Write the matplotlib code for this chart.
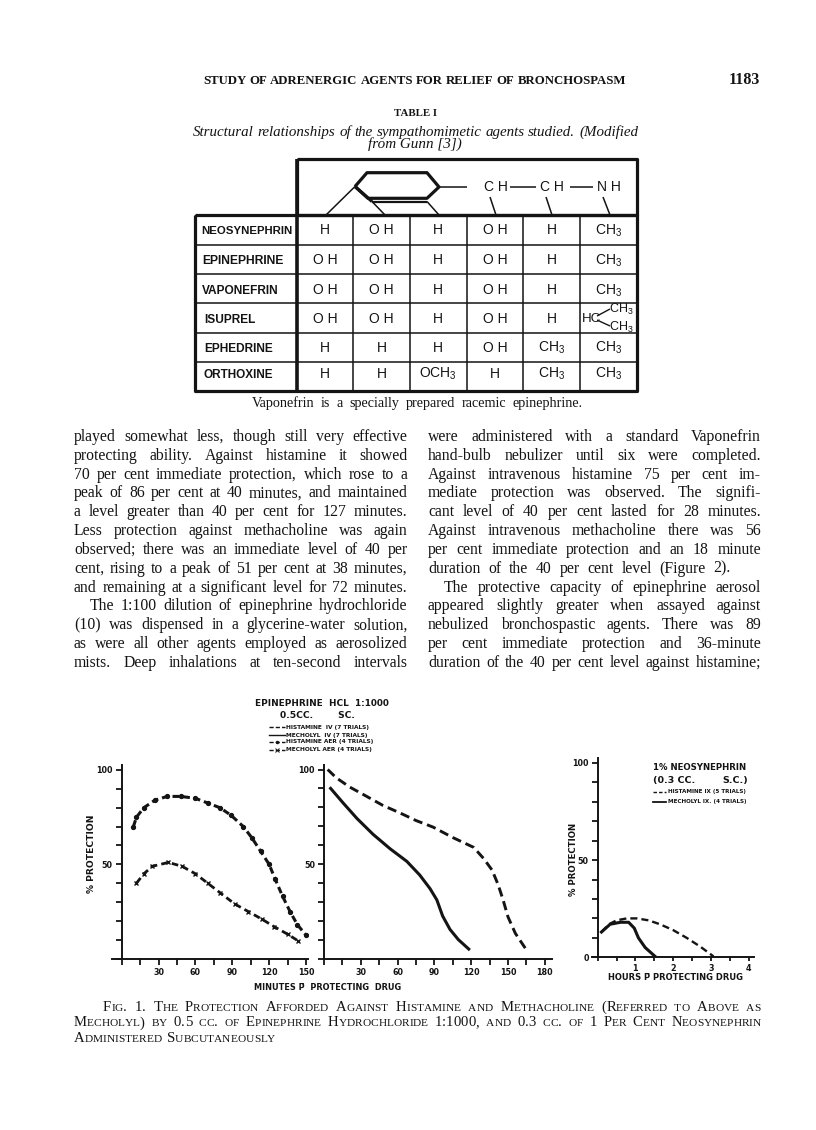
"""Scanned journal page: table, two text columns and Fig. 1 (three panels)."""

import matplotlib
matplotlib.use("Agg")
import matplotlib.pyplot as plt
from matplotlib.font_manager import FontProperties

W, H = 816, 1130
INK = "#141414"
SERIF = "Liberation Serif"
LABEL = "DejaVu Sans"

plt.rcParams["mathtext.fontset"] = "custom"
plt.rcParams["mathtext.rm"] = "Liberation Sans"
plt.rcParams["mathtext.default"] = "rm"

# ---------------------------------------------------------------------------
# Data
# ---------------------------------------------------------------------------

# Epinephrine panel, aerosol curves (minutes, % protection)
hist_aer_x = [9.5, 12, 18, 27, 37, 48, 60, 70, 80, 89, 99, 106, 113, 120, 125, 131, 137, 143, 150]
hist_aer_y = [70, 75, 80, 84, 86, 86, 85, 82.5, 80, 76, 70, 64, 57, 50, 42, 33, 25, 18, 12.5]
mech_aer_x = [12, 18, 25, 38, 49, 60, 70, 80, 92, 103, 114, 124, 135, 143.5]
mech_aer_y = [40, 45, 49, 51, 49, 45, 40, 35, 29, 25, 21, 17, 13, 9.5]

# Epinephrine panel, intravenous curves
hist_iv_x = [3, 10, 21, 35, 48, 62, 75, 89, 105, 122, 130, 137, 142, 146, 150, 156, 166]
hist_iv_y = [100, 95.6, 90.7, 85.7, 81, 77, 73, 69.5, 64, 58.8, 53, 46.8, 39, 31, 22, 13.3, 3.6]
mech_iv_x = [5.4, 16, 27, 40, 54, 67.5, 78, 86.4, 92, 96.7, 102.7, 109.5, 118]
mech_iv_y = [90, 82, 74, 65.7, 58, 51.4, 44.2, 37, 31, 22.5, 15.4, 10, 5]

# Neosynephrin panel (hours, % protection)
neo_hist_x = [0.1, 0.3, 0.5, 0.77, 1.04, 1.35, 1.65, 2.0, 2.36, 2.72, 3.07]
neo_hist_y = [13, 17, 19, 20, 20, 19, 17, 14, 10, 5.5, 0.5]
neo_mech_x = [0.1, 0.33, 0.6, 0.82, 0.97, 1.08, 1.26, 1.52]
neo_mech_y = [13, 17, 18, 18, 15, 10, 5, 0.5]

left_xticks = [0, 15, 30, 45, 60, 75, 90, 105, 120, 135, 150]
left_xlabels = ["", "", "30", "", "60", "", "90", "", "120", "", "150"]
mid_xticks = [0, 15, 30, 45, 60, 75, 90, 105, 120, 135, 150, 165, 180]
mid_xlabels = ["", "", "30", "", "60", "", "90", "", "120", "", "150", "", "180"]
neo_xticks = [0, 0.5, 1, 1.5, 2, 2.5, 3, 3.5, 4]
neo_xlabels = ["", "", "1", "", "2", "", "3", "", "4"]
pct_ticks = [0, 10, 20, 30, 40, 50, 60, 70, 80, 90, 100]

row_names = ["NEOSYNEPHRIN", "EPINEPHRINE", "VAPONEFRIN", "ISUPREL", "EPHEDRINE", "ORTHOXINE"]
table_cells = [
    ["H", "O H", "H", "O H", "H", "CH$_3$"],
    ["O H", "O H", "H", "O H", "H", "CH$_3$"],
    ["O H", "O H", "H", "O H", "H", "CH$_3$"],
    ["O H", "O H", "H", "O H", "H", ""],
    ["H", "H", "H", "O H", "CH$_3$", "CH$_3$"],
    ["H", "H", "OCH$_3$", "H", "CH$_3$", "CH$_3$"],
]

left_column = [
    "played somewhat less, though still very effective",
    "protecting ability.  Against histamine it showed",
    "70 per cent immediate protection, which rose to a",
    "peak of 86 per cent at 40 minutes, and maintained",
    "a level greater than 40 per cent for 127 minutes.",
    "Less protection against methacholine was again",
    "observed; there was an immediate level of 40 per",
    "cent, rising to a peak of 51 per cent at 38 minutes,",
    "and remaining at a significant level for 72 minutes.",
    "The 1:100 dilution of epinephrine hydrochloride",
    "(10) was dispensed in a glycerine-water solution,",
    "as were all other agents employed as aerosolized",
    "mists.  Deep inhalations at ten-second intervals",
]
right_column = [
    "were administered with a standard Vaponefrin",
    "hand-bulb nebulizer until six were completed.",
    "Against intravenous histamine 75 per cent im-",
    "mediate protection was observed.  The signifi-",
    "cant level of 40 per cent lasted for 28 minutes.",
    "Against intravenous methacholine there was 56",
    "per cent immediate protection and an 18 minute",
    "duration of the 40 per cent level (Figure 2).",
    "The protective capacity of epinephrine aerosol",
    "appeared slightly greater when assayed against",
    "nebulized bronchospastic agents.  There was 89",
    "per cent immediate protection and 36-minute",
    "duration of the 40 per cent level against histamine;",
]
caption_lines = [
    "Fig. 1.  The Protection Afforded Against Histamine and Methacholine (Referred to Above as",
    "Mecholyl) by 0.5 cc. of Epinephrine Hydrochloride 1:1000, and 0.3 cc. of 1 Per Cent Neosynephrin",
    "Administered Subcutaneously",
]

# ---------------------------------------------------------------------------
# Page helpers (the overlay axes uses pixel coordinates, y pointing down)
# ---------------------------------------------------------------------------

fig = plt.figure(figsize=(W / 100, H / 100), dpi=100, facecolor="white")
page = fig.add_axes([0, 0, 1, 1])
page.set_xlim(0, W)
page.set_ylim(H, 0)
page.axis("off")
renderer = fig.canvas.get_renderer()


def text_width(s, size, **font):
    prop = FontProperties(size=size, **font)
    w, _, _ = renderer.get_text_width_height_descent(s, prop, False)
    return w


def spread(line, x0, x1, y, size=11.3, **font):
    """Set one line word by word so it fills x0..x1."""
    words = line.split()
    widths = [text_width(w, size, **font) for w in words]
    gap = (x1 - x0 - sum(widths)) / max(len(words) - 1, 1)
    x = x0
    for word, w in zip(words, widths):
        page.text(x, y, word, fontsize=size, color=INK, va="baseline", ha="left", **font)
        x += w + gap


def small_caps(line, x0, x1, y, big=10.6, small=8.2):
    """Small capitals, spread over x0..x1 (x1=None keeps a natural gap)."""
    words = line.split()
    runs = []
    for word in words:
        chars = [(c.upper(), small if c.islower() else big) for c in word]
        runs.append((chars, sum(text_width(c, s, family=SERIF) for c, s in chars)))
    total = sum(r[1] for r in runs)
    gap = 5 if x1 is None else (x1 - x0 - total) / (len(words) - 1)
    x = x0
    for chars, w in runs:
        for c, s in chars:
            page.text(x, y, c, fontsize=s, color=INK, family=SERIF, va="baseline")
            x += text_width(c, s, family=SERIF)
        x += gap


def rule(xs, ys, lw=1.1):
    page.plot(xs, ys, color=INK, lw=lw, solid_capstyle="butt")


def label(x, y, s, size=5.6, ha="center", **kw):
    page.text(x, y, s, fontsize=size, color=INK, family=LABEL, weight="bold",
              ha=ha, va="center", **kw)


# ---------------------------------------------------------------------------
# Header, table
# ---------------------------------------------------------------------------

spread("STUDY OF ADRENERGIC AGENTS FOR RELIEF OF BRONCHOSPASM", 203, 626, 84,
       size=9.2, family=SERIF, weight="bold")
page.text(760, 84, "1183", fontsize=11.5, family=SERIF, weight="bold", ha="right",
          va="baseline", color=INK)
page.text(415, 116, "TABLE I", fontsize=7.8, family=SERIF, weight="bold", ha="center",
          va="baseline", color=INK)
spread("Structural relationships of the sympathomimetic agents studied.  (Modified",
       193, 638, 136, size=10.8, family=SERIF, style="italic")
page.text(415, 148, "from Gunn [3])", fontsize=10.9, family=SERIF, style="italic",
          ha="center", va="baseline", color=INK)
spread("Vaponefrin is a specially prepared racemic epinephrine.", 252, 583, 407,
       size=10.2, family=SERIF)

col_x = [297.3, 353.3, 410, 466.7, 523.3, 580, 636.7]
row_y = [215, 245, 274, 303.3, 333.3, 362, 390.7]
row_base_y = [234.5, 264.5, 294.5, 323, 352, 377.5]
row_name_x = [201, 202, 202, 204, 204, 203]
row_name_size = [8.2, 8.7, 8.6, 8.6, 8.6, 8.5]

rule([297, 637, 637, 297, 297], [159, 159, 215, 215, 159], lw=2.3)
rule([195, 637, 637, 195, 195], [215, 215, 391, 391, 215], lw=2.3)
rule([297, 297], [159, 391], lw=2.6)
for x in col_x[1:-1]:
    rule([x, x], [215, 391], lw=1.1)
for y in row_y[1:-1]:
    rule([195, 637], [y, y], lw=1.1)

# benzene ring and the side chain above the table
rule([355, 367, 427, 439, 427, 368, 355], [186.5, 172.7, 172.7, 187, 198.3, 198.3, 186.5], lw=2.3)
rule([355, 372], [186.5, 201.5], lw=2.3)
rule([372, 427], [201.5, 201.5], lw=1.6)
rule([355, 326], [186.5, 215])
rule([372, 385], [201.5, 215])
rule([427, 439], [201.5, 215])
rule([439, 467], [187, 187])
rule([510, 536], [187, 187])
rule([570, 593], [187, 187])
rule([490, 496], [197, 215])
rule([546, 552], [197, 215])
rule([603, 610], [197, 215])
chain_font = dict(fontsize=10, family="Liberation Sans", ha="center", va="center", color=INK)
page.text(496, 187, "C H", **chain_font)
page.text(552, 187, "C H", **chain_font)
page.text(609, 187, "N H", **chain_font)

for i, name in enumerate(row_names):
    page.text(row_name_x[i], row_base_y[i], name, fontsize=row_name_size[i],
              family="Liberation Sans", weight="bold", va="baseline", ha="left", color=INK)
    for j, cell in enumerate(table_cells[i]):
        xc = (col_x[j] + col_x[j + 1]) / 2
        page.text(xc, row_base_y[i], cell, fontsize=10, family="Liberation Sans",
                  va="baseline", ha="center", color=INK)

# the isopropyl cell of Isuprel
page.text(582, 322, "HC", fontsize=9.6, family="Liberation Sans", va="baseline", color=INK)
page.text(609, 313, "CH$_3$", fontsize=9, family="Liberation Sans", va="baseline", color=INK)
page.text(609, 331, "CH$_3$", fontsize=9, family="Liberation Sans", va="baseline", color=INK)
rule([597, 610], [316, 309], lw=1)
rule([597, 610], [320, 326], lw=1)

# ---------------------------------------------------------------------------
# Body text
# ---------------------------------------------------------------------------

for i, line in enumerate(left_column):
    x0 = 90 if line.startswith("The 1:100") else 74
    spread(line, x0, 407.5, 441 + 18.83 * i, family=SERIF)
for i, line in enumerate(right_column):
    x0 = 444 if line.startswith("The protective") else 428
    x1 = 731 if line.startswith("duration of the 40 per cent level (") else 761
    spread(line, x0, x1, 441 + 18.83 * i, family=SERIF)

small_caps(caption_lines[0], 103, 761, 1011)
small_caps(caption_lines[1], 74, 761, 1026.5)
small_caps(caption_lines[2], 74, None, 1042)

# ---------------------------------------------------------------------------
# Chart axes
# ---------------------------------------------------------------------------


def chart_axes(x_left, x_right, y_top, y_bottom, xlim, ylim, xticks, xlabels, ylabels,
               xtick_len=4.5, xtick_pad=2):
    ax = fig.add_axes([x_left / W, 1 - y_bottom / H, (x_right - x_left) / W, (y_bottom - y_top) / H])
    ax.patch.set_alpha(0)
    ax.set_xlim(*xlim)
    ax.set_ylim(*ylim)
    for side in ("top", "right"):
        ax.spines[side].set_visible(False)
    ax.spines["left"].set_position(("data", 0))
    ax.spines["left"].set_linewidth(1.4)
    ax.spines["bottom"].set_linewidth(1.4)
    ax.spines["left"].set_color(INK)
    ax.spines["bottom"].set_color(INK)
    ax.set_xticks(xticks, xlabels)
    ax.set_yticks(pct_ticks, ylabels)
    ax.tick_params(axis="both", width=1.3, length=4.5, color=INK, labelcolor=INK, pad=2, labelsize=5.8)
    ax.tick_params(axis="x", length=xtick_len, pad=xtick_pad)
    for tick in ax.get_xticklabels() + ax.get_yticklabels():
        tick.set_family(LABEL)
        tick.set_weight("bold")
    return ax


pct_labels = ["" if v not in (50, 100) else str(v) for v in pct_ticks]
pct_labels_zero = ["0" if v == 0 else t for v, t in zip(pct_ticks, pct_labels)]
px_per_min = 184 / 150

ax1 = chart_axes(112, 307.5, 765, 958.7, (-9.7 / px_per_min, 185.5 / px_per_min),
                 (0, 193.7 / 1.887), left_xticks, left_xlabels, pct_labels)
ax1.plot(hist_aer_x, hist_aer_y, color=INK, lw=2.2, ls=(0, (2.2, 1.3)), marker="o", ms=2.8)
ax1.plot(mech_aer_x, mech_aer_y, color=INK, lw=2.0, ls=(0, (2.4, 1.5)), marker="x", ms=3.4, mew=1.0)

ax2 = chart_axes(324, 552, 765, 958.5, (0, 228 / px_per_min), (0, 193.5 / 1.89),
                 mid_xticks, mid_xlabels, pct_labels)
ax2.plot(hist_iv_x, hist_iv_y, color=INK, lw=2.1, ls=(0, (3.2, 1.7)))
ax2.plot(mech_iv_x, mech_iv_y, color=INK, lw=2.2)

ax3 = chart_axes(592, 753.5, 758, 957.3, (-5.7 / 37.7, 155.8 / 37.7), (0, 199.3 / 1.945),
                 neo_xticks, neo_xlabels, pct_labels_zero, xtick_len=3, xtick_pad=1.5)
ax3.plot(neo_hist_x, neo_hist_y, color=INK, lw=1.7, ls=(0, (3, 1.7)))
ax3.plot(neo_mech_x, neo_mech_y, color=INK, lw=2.2)

# ---------------------------------------------------------------------------
# Chart lettering and hand drawn keys
# ---------------------------------------------------------------------------

label(92, 854, "% PROTECTION", size=6.6, rotation=90)
label(573, 859, "% PROTECTION", size=6.2, rotation=90)
label(328, 987, "MINUTES P\u0304  PROTECTING  DRUG", size=5.9)
label(676, 978, "HOURS P\u0304 PROTECTING DRUG", size=6.0)

label(322, 703, "EPINEPHRINE  HCL  1:1000", size=6.4)
label(317, 716, "0.5CC.        SC.", size=6.6)
label(286, 727, "HISTAMINE  IV (7 TRIALS)", size=4.2, ha="left")
label(286, 735, "MECHOLYL  IV (7 TRIALS)", size=4.2, ha="left")
label(286, 742, "HISTAMINE AER (4 TRIALS)", size=4.2, ha="left")
label(286, 750, "MECHOLYL AER (4 TRIALS)", size=4.2, ha="left")
page.plot([269, 285], [727, 727], color=INK, lw=1, ls=(0, (3, 1.5)))
page.plot([269, 285], [735, 735], color=INK, lw=1)
page.plot([269, 285], [742, 742], color=INK, lw=1, ls=(0, (3, 1.5)))
page.plot([269, 285], [750, 750], color=INK, lw=1, ls=(0, (3, 1.5)))
page.plot([277], [742], color=INK, marker="o", ms=1.5)
page.plot([277], [750], color=INK, marker="x", ms=2.2, mew=0.7)

label(653, 768, "1% NEOSYNEPHRIN", size=6.2, ha="left")
label(653, 781, "(0.3 CC.", size=6.8, ha="left")
label(748, 781, "S.C.)", size=6.8, ha="right")
label(668, 792, "HISTAMINE IX (5 TRIALS)", size=4.1, ha="left")
label(668, 802, "MECHOLYL IX. (4 TRIALS)", size=4.1, ha="left")
page.plot([653, 666], [792, 792], color=INK, lw=1, ls=(0, (2.5, 1.5)))
page.plot([653, 666], [802, 802], color=INK, lw=1.3)

fig.savefig("out.png", dpi=100)
